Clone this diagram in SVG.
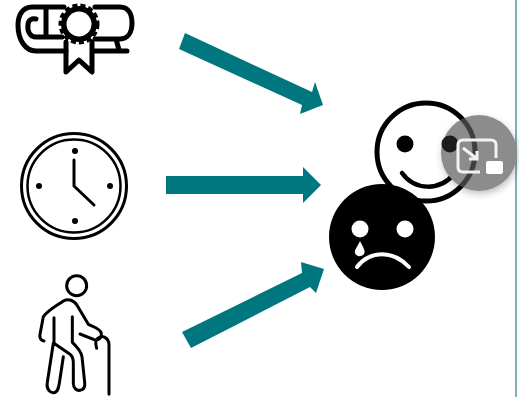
<svg xmlns="http://www.w3.org/2000/svg" width="519" height="397" viewBox="0 0 519 397">
<defs>
<filter id="soft" x="-10%" y="-10%" width="120%" height="120%"><feGaussianBlur stdDeviation="0.7"/></filter>
<filter id="shadow" x="-30%" y="-30%" width="160%" height="160%"><feGaussianBlur stdDeviation="4"/></filter>
<clipPath id="btn"><circle cx="479" cy="153" r="38"/></clipPath>
</defs>
<style>
.ink{fill:none;stroke:#000;stroke-linecap:round;stroke-linejoin:round}
.arrow{fill:#00777f}
.w{fill:#fff}
</style>
<rect width="519" height="397" fill="#fff"/>
<rect x="515" y="0" width="2" height="397" fill="#7fb0b5"/>
<g id="connectors" filter="url(#soft)">
<polygon class="arrow" points="185,33 312,92 315,82 323,105 300,114 302,105 179,49"/>
<polygon class="arrow" points="166,176 303,176 303,167 321,185 303,203 303,194 166,194"/>
<polygon class="arrow" points="182,332 302,273 301,262 324,269 316,293 310,287 191,348"/>
</g>
<g id="diploma" filter="url(#soft)">
<path class="ink" stroke-width="5" d="M64,7H32C22,7 18,16 18,25C18,41 26,51 36,51H66M94,51H127M95,7H120C129,7 132,15 132,23C132,32 128,39 120,39H95M46,9V37H62M46,37H36C30,37 27,31 28,25C28,20 32,18 36,19M116,39L119,50"/>
<circle cx="79" cy="24" r="18" fill="#000"/>
<circle cx="79" cy="24" r="18.5" fill="none" stroke="#000" stroke-width="4" stroke-dasharray="5 3"/>
<circle cx="79" cy="24" r="12.5" fill="#fff"/>
<path class="ink" stroke-width="5" stroke-linecap="butt" d="M66,42V72L79,60L92,72V42"/>
</g>
<g id="clock" filter="url(#soft)">
<circle class="ink" cx="74" cy="186" r="52.5" stroke-width="3"/>
<circle class="ink" cx="74" cy="186" r="46.5" stroke-width="2.5"/>
<path class="ink" stroke-width="3" d="M74,160V186L94,205"/>
<circle cx="75" cy="151" r="3"/><circle cx="75" cy="221" r="3"/><circle cx="39" cy="186" r="3"/><circle cx="110" cy="186" r="3"/>
</g>
<g id="person" filter="url(#soft)" transform="translate(20 265) scale(.3333)">
<circle class="ink" cx="170" cy="62" r="30" stroke-width="9"/>
<path class="ink" stroke-width="9" d="M72,228C62,226 58,218 60,208L70,155C85,135 110,122 130,108C145,100 162,105 172,122L205,178C220,186 240,190 244,205C246,218 236,224 228,226L180,207M228,226C226,236 228,244 230,250M228,226C232,218 245,212 252,216C262,220 267,230 267,240V388M102,158V235L150,268C160,275 160,285 160,295V355C160,370 170,378 180,376C192,374 196,365 194,352L186,275C184,262 176,250 157,232V155M100,235L82,352C78,372 90,385 102,383C114,381 116,368 118,355L130,275"/>
</g>
<g id="happy-face" filter="url(#soft)">
<circle cx="426" cy="152" r="49" fill="#fff" stroke="#000" stroke-width="5"/>
<circle cx="405" cy="144" r="8.5"/><circle cx="450" cy="144" r="8.5"/>
<path class="ink" stroke-width="4.5" d="M402,173C415,191 440,191 454,174"/>
</g>
<g id="sad-face" filter="url(#soft)">
<circle cx="382" cy="237" r="53" fill="#000"/>
<circle class="w" cx="360" cy="229" r="8.5"/><circle class="w" cx="405" cy="229" r="8.5"/>
<path class="ink" style="stroke:#fff" stroke-width="4" d="M357,267C370,250 393,250 409,267"/>
<path class="w" d="M360,241C363,247 366,251 364,254C362,257 356,257 355,253C354,250 358,246 360,241Z"/>
</g>
<g id="overlay-button">
<circle cx="480" cy="156" r="37" fill="#000" opacity=".3" filter="url(#shadow)"/>
<circle cx="479" cy="153" r="38" fill="#8c8c8c"/>
<g clip-path="url(#btn)" filter="url(#soft)">
<circle cx="450" cy="144" r="8.5" fill="#000" opacity=".8"/>
<circle cx="426" cy="152" r="49" fill="none" stroke="#000" stroke-width="5" opacity=".55"/>
</g>
<g filter="url(#soft)">
<path d="M480,172H463Q458,172 458,167V145Q458,140 463,140H491Q496,140 496,145V158" fill="none" stroke="#f2f2f2" stroke-width="3"/>
<path d="M463,148L476,158M477,151V159H469" fill="none" stroke="#f2f2f2" stroke-width="3"/>
<rect x="486" y="161" width="17" height="13" rx="2" fill="#fff"/>
</g>
</g>
</svg>
